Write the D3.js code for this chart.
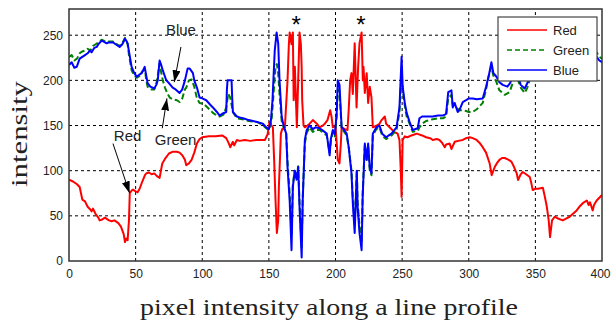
<!DOCTYPE html>
<html>
<head>
<meta charset="utf-8">
<script src="https://cdn.jsdelivr.net/npm/d3@7"></script>
<style>
  body { margin: 0; background: #fff; }
  svg { display: block; }
  .tick text { font-family: "Liberation Sans", Arial, sans-serif; font-size: 12px; fill: #222; }
</style>
</head>
<body>
<div id="chart"></div>
<script>
// profile values, as [pixel, intensity]
const red = [[0,90],[3,88],[6,85],[8,82],[9,75],[10,68],[12,66],[14,60],[16,57],[17,55],[18,58],[20,52],[22,48],[23,45],[25,46],[27,48],[28,47],[30,45],[32,44],[34,45],[36,43],[37,42],[39,38],[40,34],[41,30],[42,21],[43,25],[44,23],[45,45],[45.6,75],[47,78],[48,79],[50,77],[51.5,76],[53,80],[55,88],[57,95],[58,97],[60,98],[62,96],[64,97],[66,94],[68,92],[69,100],[70,108],[72,113],[75,119],[78,121],[81,121],[83,120],[85,117],[87,112],[88,106],[90,108],[92,112],[94,120],[96,130],[98,135],[100,137],[105,138],[110,138],[115,139],[118,136],[120,130],[121,126],[123,132],[124,128],[126,134],[128,133],[132,134],[136,133],[141,134],[145,134],[147,134],[149,140],[150.5,154],[152,150],[153,148],[154,110],[155,67],[156,31],[157,45],[157.5,82],[158.5,120],[159,141],[160,146],[162,148],[164,200],[165,240],[165.6,253],[167,240],[168,253],[168.6,178],[169.5,215],[170.5,170],[171,148],[172,200],[173,253],[174,240],[174.6,215],[175,178],[176,150],[177,148],[179,150],[180.6,152],[183,156],[186,152],[188,148],[190.5,150],[192,152],[194,156],[196,167],[197,160],[198,148],[200,150],[201,128],[201.7,112],[203,108],[204,130],[204.6,148],[207,146],[209,145],[210,170],[211,200],[212,208],[213,185],[214.4,241],[215.8,170],[217,215],[218,241],[219.6,253],[220.5,200],[221,215],[222,186],[223.4,208],[224.5,175],[225.7,193],[227,181],[228,148],[231,150],[233,152],[234.6,156],[237,160],[238,152],[240.6,148],[244,143],[246.6,141],[248,134],[249,100],[249.6,71],[250.4,134],[252,138],[254,137],[257,139],[261,141],[265,139],[268,137],[271,136],[273,134],[276,135],[278,134],[280,131],[282,126],[283,129],[285.7,130],[287,124],[289.5,132],[292,133],[295.5,134],[298,136],[300.7,137],[303,136],[305.9,134],[308,131],[310.5,126],[313,120],[315.7,108],[317.2,95],[319.5,104],[321,108],[323,112],[325,114],[327,114],[330,112],[332,110],[334,104],[336,97],[337,89.6],[339,96],[340.5,98.5],[343,96],[345.8,93],[347,86],[348,78.5],[350,80],[352,80],[355.6,81],[357,72],[358.6,60],[360,45],[361,26.5],[362.5,45],[364.5,49],[367,47],[370.5,45],[373,47],[375.7,49],[378,52],[381,56],[383,60],[385.6,64],[388.6,67],[390,62],[391,65],[393,56],[394,62],[396,67],[398,70],[400,73]];

const green = [[0,226],[2,228],[4,222],[6,224],[8,230],[10,232],[12,233],[14,235],[16,233],[18,238],[20,240],[22,242],[24.5,245],[26,244],[28,242],[30,243],[33,243],[36,240],[38,238],[40,241],[42,247],[43,244],[44,240],[45,228],[47,211],[49,205],[51,203],[53,205],[55,210],[57,212],[58,200],[59,193],[61,190],[64,190],[65.5,196],[66.6,205],[68,219],[69,210],[70.4,200],[72,192],[74,185],[75.6,181],[78,179],[81,178],[83,176],[85,180],[87,190],[88,192],[90,200],[92,201],[94,193],[96,180],[98,175],[101,174],[104,170],[108,164],[111,161],[113,160],[116,162],[118,170],[119.5,185],[121,181],[123,165],[126,158],[130,157],[135,155],[141,154],[145,151],[148,147],[150,145],[152,155],[153.5,185],[155,215],[156,218],[157,208],[158,185],[159.6,155],[161,148],[163,141],[164,110],[165.6,75],[167,30],[168,85],[169.4,100],[170.8,92],[172,105],[173,65],[174.6,15],[175.4,70],[177,130],[178.4,142],[180.6,148],[183,143],[185,145],[188,145],[190,143],[193.4,139],[195.6,120],[196.5,133],[198,143],[199.5,138],[200.9,160],[201.7,190],[203,188],[204.6,146],[206,144],[208.4,139],[210,125],[212,100],[213,70],[214.4,40],[216,100],[216.6,65],[218,40],[219.6,20],[220.4,75],[222,128],[223.4,112],[224.5,128],[225.7,100],[227,95],[228,139],[230.7,146],[233,148],[235,139],[238,135],[240,137],[242,139],[245.8,145],[248,165],[249.6,210],[250.4,190],[252,172],[253.4,160],[255.6,152],[258,143],[261.7,144],[263,148],[265,152],[268,155],[273,157],[277,158],[280.6,158],[283,160],[284.6,180],[287,184],[288,172],[290,170],[293,167],[296,167],[298,166],[300,165],[303,165],[306,168],[310.5,175],[313,190],[315,205],[317,215],[318.5,205],[320.8,198],[323,189],[325.5,186],[327,184],[330.6,187],[333,197],[335,205],[337,200],[339,192],[342,186],[344,192],[346,202],[350,208],[355,210],[360,208],[365,213],[370,210],[375,216],[380,214],[385,218],[390,220],[393,228],[396,231],[398,226],[400,224]];

const blue = [[0,217],[2,220],[4,214],[5.8,215],[8,224],[10,226],[12,228],[14,230],[15.6,233],[17,231],[19,236],[20.8,237],[22,240],[24.5,244],[26,243],[28.3,241],[30,242],[33,242],[35,240],[38,237],[40,240],[42,246],[43,244],[44,241],[45,232],[47,215],[49,208],[50.8,204],[52.5,206],[54.6,208],[56.8,215],[58,205],[59,197],[61,193],[64,191],[65.5,195],[66.6,200],[68,222],[69,218],[70.4,211],[73,200],[75,197],[77.8,192],[80,190],[83,186],[85,190],[87,200],[89,213],[90.6,213],[93,208],[94,200],[96,192],[98,181],[100,180],[103,178],[106,173],[108,170],[111,165],[113,161],[115,163],[118,165],[118.5,190],[119,200],[122,200],[122.5,180],[123,165],[126,160],[128,159],[130.6,158],[135,156],[141,154],[145.5,152],[148,148],[150,146],[151.5,155],[152.7,178],[154.4,233],[155.8,253],[157,241],[158,200],[159.6,160],[161,150],[163,141],[164,104],[165.6,67],[167,12],[168,82],[169.4,100],[170.8,90],[172,104],[173,60],[174.6,4],[175.4,67],[177,134],[178.4,145],[180.6,150],[183,146],[185,148],[188,147],[190,145],[193.4,141],[195.6,117],[196.5,135],[198,145],[199.5,140],[200.9,164],[201.7,200],[203,195],[204.6,148],[206,146],[208.4,141],[210,125],[212,97],[213,64],[214.4,31],[216,100],[216.6,60],[218,31],[219.6,12],[220.4,71],[222,130],[223.4,112],[224.5,130],[225.7,104],[227,97],[228,141],[230.7,148],[233,150],[235,141],[238,137],[240,139],[242,141],[245.8,148],[248,170],[249.6,226],[250.4,193],[252,175],[253.4,164],[255.6,154],[258,145],[261.7,147],[263,158],[265,160],[268,160],[273,160],[277,161],[280.6,161],[283,163],[284.6,187],[287,189],[288,170],[289.4,175],[291.7,165],[293,167],[295.5,176],[298,178],[300,180],[303,180],[306,179],[310.5,180],[313,193],[315,205],[317,220],[318.5,208],[320.8,204],[323,198],[325.5,195],[329,193],[331,197],[333,204],[335,210],[337,205],[339,195],[342,191],[344,197],[346,205],[350,210],[355,212],[360,210],[365,215],[370,212],[375,218],[380,215],[385,220],[390,222],[393,228],[396,226],[398,222],[400,220]];

const xTicks = [0, 50, 100, 150, 200, 250, 300, 350, 400];
const yTicks = [0, 50, 100, 150, 200, 250];
const seriesNames = ["Red", "Green", "Blue"];
const seriesColors = ["#ff0000", "#008000", "#0000ff"];

// callouts: label, label position in data units, arrow tail and tip in data units
const callouts = [
  { label: "Blue",  tx: 84, ty: 250, ax: 84, ay: 237, bx: 79, by: 198 },
  { label: "Green", tx: 80, ty: 128, ax: 70, ay: 147, bx: 73.5, by: 180 },
  { label: "Red",   tx: 44, ty: 133, ax: 33, ay: 130, bx: 45.5, by: 75 }
];
const stars = [170.5, 219];

const width = 611, height = 325;
const margin = { top: 9, right: 9, bottom: 64, left: 69 };

const svg = d3.select("#chart").append("svg")
  .attr("width", width)
  .attr("height", height);

const x = d3.scaleLinear().domain([0, 400]).range([margin.left, width - margin.right]);
const y = d3.scaleLinear().domain([0, 279]).range([height - margin.bottom, margin.top]);

// grid
svg.append("g").selectAll("line")
  .data(xTicks.slice(1, -1))
  .enter().append("line")
  .attr("x1", d => x(d)).attr("x2", d => x(d))
  .attr("y1", y(0)).attr("y2", margin.top)
  .attr("stroke", "#000").attr("stroke-dasharray", "3,3");

svg.append("g").selectAll("line")
  .data(yTicks.slice(1))
  .enter().append("line")
  .attr("y1", d => y(d)).attr("y2", d => y(d))
  .attr("x1", x(0)).attr("x2", x(400))
  .attr("stroke", "#000").attr("stroke-dasharray", "3,3");

svg.append("clipPath").attr("id", "clip")
  .append("rect")
  .attr("x", x(0)).attr("y", margin.top)
  .attr("width", x(400) - x(0)).attr("height", y(0) - margin.top);

const line = d3.line().x(d => x(d[0])).y(d => y(d[1]));

const plot = svg.append("g").attr("clip-path", "url(#clip)");
[red, green, blue].forEach((s, i) => {
  plot.append("path")
    .datum(s)
    .attr("d", line)
    .attr("fill", "none")
    .attr("stroke", seriesColors[i])
    .attr("stroke-width", 2)
    .attr("stroke-linejoin", "round")
    .attr("stroke-dasharray", i === 1 ? "6,3" : null);
});

// frame
svg.append("rect")
  .attr("x", x(0)).attr("y", margin.top)
  .attr("width", x(400) - x(0)).attr("height", y(0) - margin.top)
  .attr("fill", "none").attr("stroke", "#333").attr("stroke-width", 1.5);

// axes
svg.append("g")
  .attr("transform", `translate(0,${y(0)})`)
  .call(d3.axisBottom(x).tickValues(xTicks).tickSize(0).tickPadding(8))
  .call(g => g.select(".domain").remove())
  .call(g => g.selectAll(".tick text").filter(d => d === 400).attr("dx", -2)); // keep the last label inside

svg.append("g")
  .attr("transform", `translate(${x(0)},0)`)
  .call(d3.axisLeft(y).tickValues(yTicks).tickSize(0).tickPadding(6))
  .call(g => g.select(".domain").remove());

// axis titles
svg.append("text")
  .attr("x", 329).attr("y", 315)
  .attr("text-anchor", "middle")
  .attr("font-family", "'Liberation Serif', 'DejaVu Serif', serif")
  .attr("font-size", 24)
  .attr("textLength", 378)
  .attr("lengthAdjust", "spacingAndGlyphs")
  .attr("fill", "#222")
  .text("pixel intensity along a line profile");

svg.append("text")
  .attr("transform", "translate(27,134) rotate(-90)")
  .attr("text-anchor", "middle")
  .attr("font-family", "'Liberation Serif', 'DejaVu Serif', serif")
  .attr("font-size", 24)
  .attr("textLength", 106)
  .attr("lengthAdjust", "spacingAndGlyphs")
  .attr("fill", "#222")
  .text("intensity");

// arrows
const defs = svg.append("defs");
defs.append("marker")
  .attr("id", "arrow")
  .attr("viewBox", "0 0 12 8")
  .attr("refX", 12).attr("refY", 4)
  .attr("markerWidth", 12).attr("markerHeight", 8)
  .attr("markerUnits", "userSpaceOnUse")
  .attr("orient", "auto")
  .append("path").attr("d", "M0,0L12,4L0,8Z").attr("fill", "#000");

const notes = svg.append("g");
notes.selectAll("line")
  .data(callouts)
  .enter().append("line")
  .attr("x1", d => x(d.ax)).attr("y1", d => y(d.ay))
  .attr("x2", d => x(d.bx)).attr("y2", d => y(d.by))
  .attr("stroke", "#000").attr("stroke-width", 1)
  .attr("marker-end", "url(#arrow)");

notes.selectAll("text")
  .data(callouts)
  .enter().append("text")
  .attr("x", d => x(d.tx)).attr("y", d => y(d.ty))
  .attr("text-anchor", "middle")
  .attr("font-family", "'Liberation Sans', Arial, sans-serif")
  .attr("font-size", 15)
  .attr("fill", "#222")
  .text(d => d.label);

svg.append("g").selectAll("text")
  .data(stars)
  .enter().append("text")
  .attr("x", d => x(d)).attr("y", 33)
  .attr("text-anchor", "middle")
  .attr("font-family", "'Liberation Sans', Arial, sans-serif")
  .attr("font-size", 24)
  .attr("fill", "#000")
  .text("*");

// legend
const legend = svg.append("g").attr("transform", "translate(498,17)");
legend.append("rect")
  .attr("width", 99).attr("height", 64)
  .attr("fill", "#fff").attr("stroke", "#444").attr("stroke-width", 1.2);

const item = legend.selectAll(".item")
  .data(seriesNames)
  .enter().append("g")
  .attr("class", "item")
  .attr("transform", (d, i) => `translate(0,${13 + i * 20})`);

item.append("line")
  .attr("x1", 9).attr("x2", 49)
  .attr("stroke", (d, i) => seriesColors[i])
  .attr("stroke-width", 1.5)
  .attr("stroke-dasharray", (d, i) => i === 1 ? "5,3" : null);

item.append("text")
  .attr("x", 55).attr("dy", "0.35em")
  .attr("font-family", "'Liberation Sans', Arial, sans-serif")
  .attr("font-size", 13)
  .attr("fill", "#222")
  .text(d => d);
</script>
</body>
</html>
